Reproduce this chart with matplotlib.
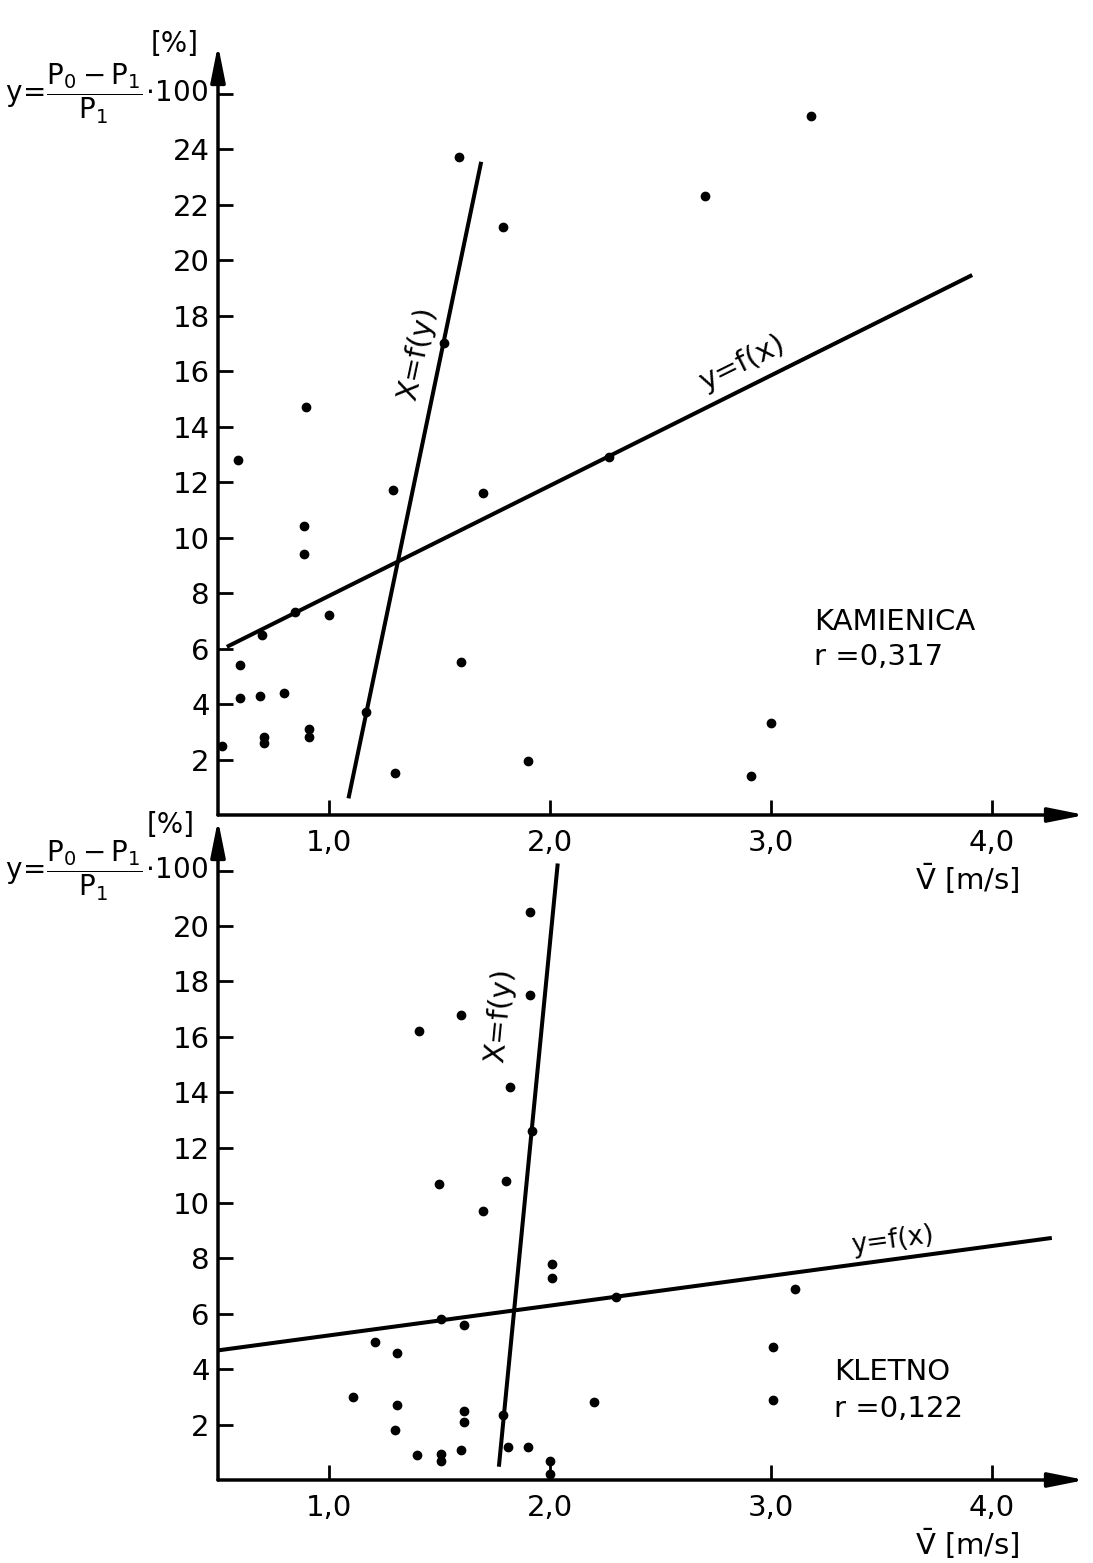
import numpy as np
import matplotlib
matplotlib.use("Agg")
import matplotlib.pyplot as plt

plt.rcParams['font.family'] = ['DejaVu Sans']
plt.rcParams['mathtext.fontset'] = 'dejavusans'

# KAMIENICA - top panel
kam_v = [3.18, 2.70, 1.59, 1.79, 1.52, 0.90, 0.59, 2.27, 1.29, 1.70, 0.89, 0.89,
         0.85, 1.00, 0.70, 0.60, 1.60, 0.60, 0.69, 0.80, 1.17, 0.71, 0.71, 0.91,
         0.91, 0.52, 1.30, 1.90, 3.00, 2.91]
kam_y = [25.2, 22.3, 23.7, 21.2, 17.0, 14.7, 12.8, 12.9, 11.7, 11.6, 10.4, 9.4,
         7.3, 7.2, 6.5, 5.4, 5.5, 4.2, 4.3, 4.4, 3.7, 2.8, 2.6, 3.1,
         2.8, 2.5, 1.5, 1.95, 3.3, 1.4]
kam_yx_v = [0.54, 3.91]    # y=f(x)
kam_yx_y = [6.06, 19.46]
kam_xy_v = [1.09, 1.69]    # x=f(y)
kam_xy_y = [0.60, 23.54]

# KLETNO - bottom panel
kle_v = [1.91, 1.91, 1.60, 1.41, 1.82, 1.92, 1.50, 1.80, 1.70, 2.01, 2.01, 2.30,
         3.11, 1.51, 1.61, 1.21, 1.31, 3.01, 1.11, 1.31, 1.30, 1.61, 1.61, 1.79,
         2.20, 3.01, 1.60, 1.81, 1.90, 1.40, 1.51, 1.51, 2.00, 2.00]
kle_y = [20.5, 17.5, 16.8, 16.2, 14.2, 12.6, 10.7, 10.8, 9.7, 7.8, 7.3, 6.6,
         6.9, 5.8, 5.6, 5.0, 4.6, 4.8, 3.0, 2.7, 1.8, 2.5, 2.1, 2.35,
         2.8, 2.9, 1.1, 1.2, 1.2, 0.9, 0.95, 0.7, 0.7, 0.2]
kle_yx_v = [0.5, 4.27]
kle_yx_y = [4.68, 8.74]
kle_xy_v = [1.77, 2.036]
kle_xy_y = [0.48, 22.26]

xticks = [1, 2, 3, 4]
xtick_labels = ['1,0', '2,0', '3,0', '4,0']

formula = r'$\mathrm{y}\!=\!\dfrac{\mathrm{P_0-P_1}}{\mathrm{P_1}}\!\cdot\!$100'
xlabel = r'$\bar{\mathrm{V}}$ [m/s]'

W, H = 1093, 1563
fig = plt.figure(figsize=(W / 100, H / 100), dpi=100)
ax1 = fig.add_axes([218 / W, 1 - 815 / H, 867 / W, 770 / H])
ax2 = fig.add_axes([218 / W, 1 - 1480 / H, 867 / W, 660 / H])


def setup(ax, ytop, yticks, pct_y, pct_dx):
    ax.set_facecolor('none')
    ax.set_xlim(0.5, 4.42)
    ax.set_ylim(0, ytop)
    for s in ax.spines.values():
        s.set_visible(False)
    ap = dict(arrowstyle='-|>,head_length=1.1,head_width=0.22', lw=2.5,
              color='k', shrinkA=0, shrinkB=0, mutation_scale=20)
    ax.annotate('', xy=(1, 0), xytext=(0, 0), xycoords='axes fraction', arrowprops=ap)
    ax.annotate('', xy=(0, 1), xytext=(0, 0), xycoords='axes fraction', arrowprops=ap)
    ax.set_xticks(xticks, xtick_labels)
    ax.set_yticks(yticks, [str(t) for t in yticks[:-1]] + [''])
    ax.tick_params(direction='in', length=11, width=2, labelsize=21)
    ax.tick_params(axis='x', pad=10)
    ax.tick_params(axis='y', pad=6)
    ax.annotate(formula, xy=(0.5, yticks[-1]), xytext=(-7, 0),
                textcoords='offset points', ha='right', va='center', fontsize=20,
                annotation_clip=False)
    ax.annotate('[%]', xy=(0.5, pct_y), xytext=(pct_dx, 0),
                textcoords='offset points', ha='center', va='center', fontsize=20,
                annotation_clip=False)
    ax.annotate(xlabel, xy=(3.89, 0), xytext=(0, -46),
                textcoords='offset points', ha='center', va='center', fontsize=21,
                annotation_clip=False)


setup(ax1, 27.75, list(range(2, 27, 2)), 27.8, -31)
setup(ax2, 23.83, list(range(2, 23, 2)), 23.65, -34)

for ax, v, y, a, b in [(ax1, kam_v, kam_y, (kam_yx_v, kam_yx_y), (kam_xy_v, kam_xy_y)),
                       (ax2, kle_v, kle_y, (kle_yx_v, kle_yx_y), (kle_xy_v, kle_xy_y))]:
    ax.plot(v, y, 'o', color='k', ms=6, clip_on=False)
    ax.plot(a[0], a[1], color='k', lw=2.9, solid_capstyle='butt')
    ax.plot(b[0], b[1], color='k', lw=2.9, solid_capstyle='butt')

ax1.text(2.87, 16.29, 'y=f(x)', rotation=26.4, rotation_mode='anchor',
         ha='center', va='center', fontsize=21)
ax1.text(1.403, 16.61, 'X=f(y)', rotation=78, rotation_mode='anchor',
         ha='center', va='center', fontsize=21)
ax2.text(3.552, 8.66, 'y=f(x)', rotation=7.7, rotation_mode='anchor',
         ha='center', va='center', fontsize=19)
ax2.text(1.773, 16.76, 'X=f(y)', rotation=84.5, rotation_mode='anchor',
         ha='center', va='center', fontsize=21)

ax1.text(3.195, 6.67, 'KAMIENICA', ha='left', va='baseline', fontsize=21)
ax1.text(3.195, 5.40, 'r =0,317', ha='left', va='baseline', fontsize=21)
ax2.text(3.286, 3.61, 'KLETNO', ha='left', va='baseline', fontsize=21)
ax2.text(3.286, 2.28, 'r =0,122', ha='left', va='baseline', fontsize=21)

fig.savefig('out.png', dpi=100)
